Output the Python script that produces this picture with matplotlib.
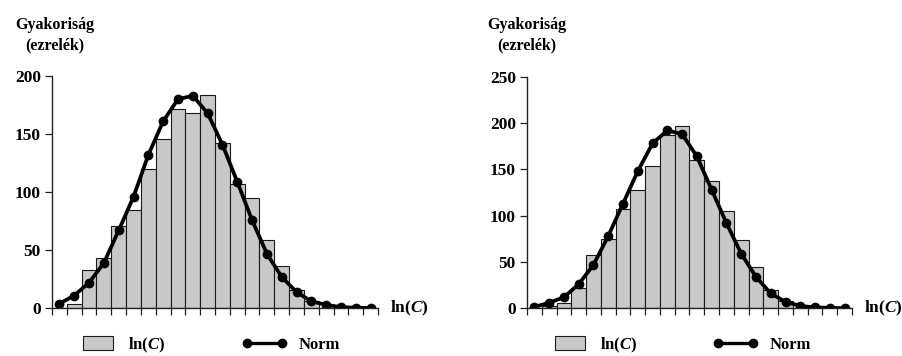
import numpy as np
import matplotlib
matplotlib.use("Agg")
import matplotlib.pyplot as plt
from matplotlib.patches import Patch
from matplotlib.lines import Line2D

plt.rcParams['font.family'] = ['Liberation Serif', 'DejaVu Serif']
plt.rcParams['font.weight'] = 'bold'
plt.rcParams['mathtext.fontset'] = 'custom'
plt.rcParams['mathtext.rm'] = 'Liberation Serif:bold'
plt.rcParams['mathtext.it'] = 'Liberation Serif:bold:italic'

#   histogram counts per class (22 classes) and fitted normal values
left_counts = [0, 4, 33, 43, 71, 85, 120, 146, 172, 168, 184, 142,
               107, 95, 59, 36, 16, 6, 0, 0, 0, 0]
left_norm = [4, 11, 22, 39, 67, 96, 132, 161, 180, 183, 168, 141,
             109, 76, 47, 27, 14, 6, 3, 1, 0.5, 0.2]
right_counts = [0, 2, 6, 22, 58, 75, 107, 128, 154, 187, 197, 160,
                137, 105, 74, 45, 20, 8, 0, 0, 0, 0]
right_norm = [1.5, 6, 12, 26, 47, 78, 113, 148, 178, 192, 188, 164,
              128, 92, 59, 34, 16, 7, 2.5, 1, 0.5, 0.2]

left_yticks = [0, 50, 100, 150, 200]
right_yticks = [0, 50, 100, 150, 200, 250]

ylabel = "Gyakoriság\n(ezrelék)"
xlabel = r"$\mathrm{ln}(C)$"
bar_label = r"$\mathrm{ln}(C)$"
line_label = "Norm"

W, H = 903, 356
fig = plt.figure(figsize=(W / 100, H / 100), dpi=100)


def draw_panel(rect, counts, norm, yticks, label_x, leg_x):
	ax = fig.add_axes(rect)
	n = len(counts)
	edges = np.arange(n)
	centers = edges + 0.5
	ax.bar(edges, counts, width=1.0, align='edge', color='#c8c8c8',
		   edgecolor='#1a1a1a', linewidth=0.8)
	ax.plot(centers, norm, color='black', linewidth=2.7, marker='o',
			markersize=6, solid_capstyle='round')

	ax.set_xlim(0, n)
	ax.set_ylim(0, yticks[-1])
	ax.set_xticks(np.arange(n + 1))
	ax.set_xticklabels([])
	ax.set_yticks(yticks)
	ax.tick_params(axis='x', direction='out', length=5, width=0.9, color='#222222')
	ax.tick_params(axis='y', direction='out', length=5, width=0.9, color='#222222',
				   labelsize=12.5, pad=3)
	for lab in ax.get_yticklabels():
		lab.set_fontweight('bold')
	for s in ['top', 'right']:
		ax.spines[s].set_visible(False)
	for s in ['left', 'bottom']:
		ax.spines[s].set_linewidth(1.0)
		ax.spines[s].set_color('#222222')
	ax.spines['left'].set_bounds(0, yticks[-1])

	ax.annotate(xlabel, xy=(1, 0), xycoords='axes fraction', xytext=(9, 0),
				textcoords='offset points', ha='left', va='center', fontsize=12.5)

	fig.text(label_x / W, 1 - 35 / H, ylabel, ha='center', va='center',
			 multialignment='center', fontsize=11.5, fontweight='bold', linespacing=1.35)

	#   legend row below the plot (two separate entries)
	bar_h = Patch(facecolor='#c8c8c8', edgecolor='#1a1a1a', linewidth=0.8)
	line_h = Line2D([], [], color='black', linewidth=2.4, marker='o', markersize=6)
	fig.legend([bar_h], [bar_label], loc='center left', frameon=False,
			   bbox_to_anchor=(leg_x[0] / W, 1 - 345 / H), fontsize=12,
			   handlelength=1.8, handleheight=0.9, handletextpad=0.9,
			   borderaxespad=0, borderpad=0)
	fig.legend([line_h], [line_label], loc='center left', frameon=False,
			   bbox_to_anchor=(leg_x[1] / W, 1 - 345 / H), fontsize=12,
			   handlelength=2.7, numpoints=2, handletextpad=0.7,
			   borderaxespad=0, borderpad=0)
	return ax


bottom = (H - 308.3) / H
draw_panel([52 / W, bottom, 326 / W, 232.3 / H], left_counts, left_norm,
		   left_yticks, 55, (83, 242))
draw_panel([527 / W, bottom, 325 / W, 231.6 / H], right_counts, right_norm,
		   right_yticks, 527, (555, 713))

fig.savefig("out.png", dpi=100)
